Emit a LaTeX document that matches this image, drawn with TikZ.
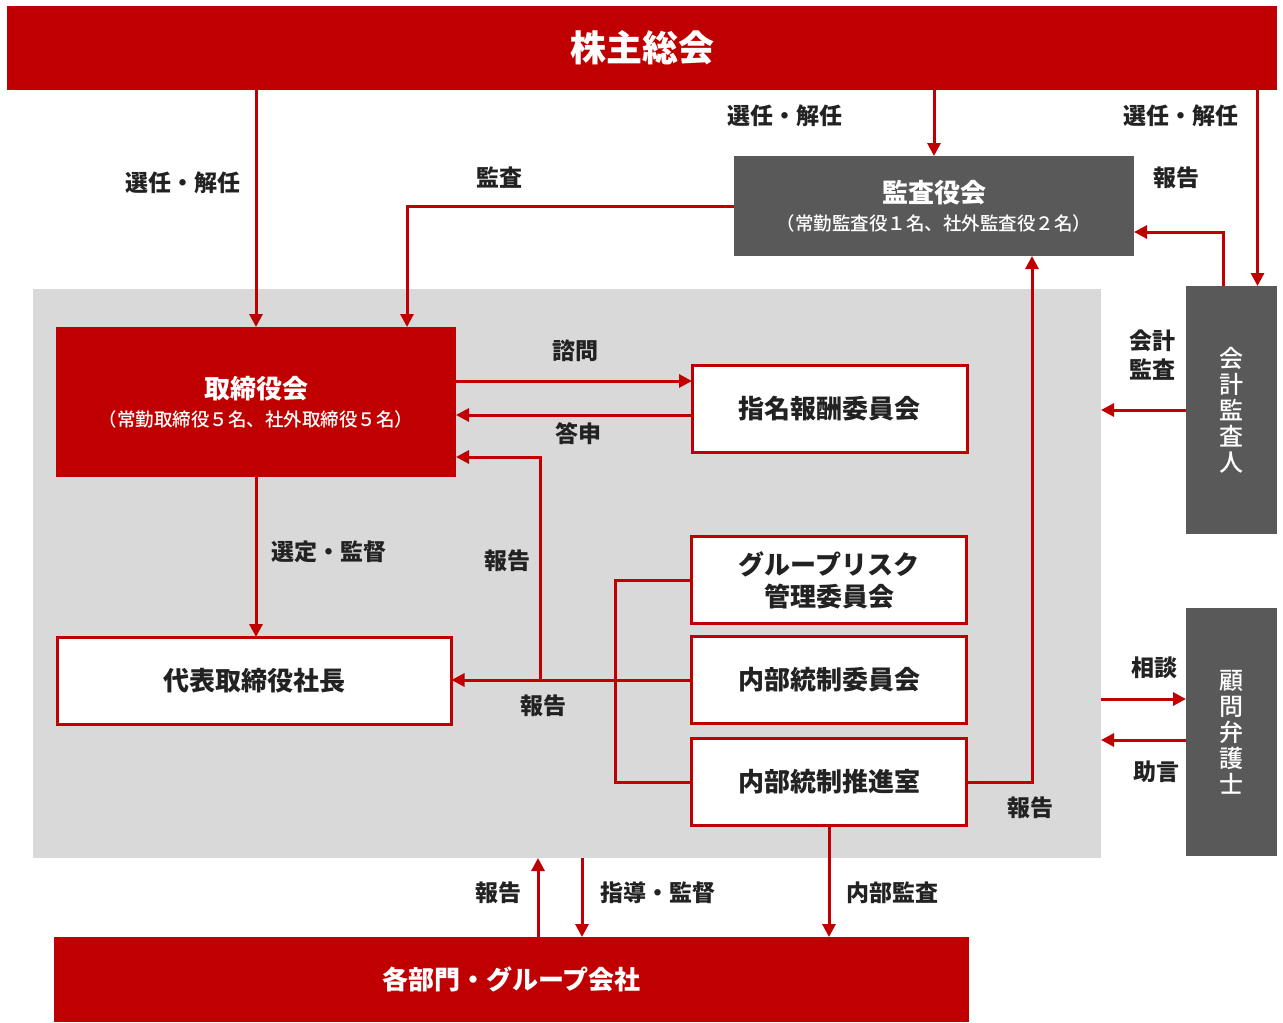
\documentclass[tikz,border=0pt]{standalone}
\usepackage{fontspec}
\newfontfamily\jpfont{Noto Sans CJK JP}
\newfontfamily\jpmed{Noto Sans CJK JP Medium}
\usetikzlibrary{arrows.meta}
\usepackage{xcolor}
\definecolor{redc}{HTML}{C00000}
\definecolor{darkc}{HTML}{595959}
\definecolor{bgc}{HTML}{D9D9D9}
\definecolor{txtc}{HTML}{222222}
\newcommand{\fsz}[1]{\fontsize{#1}{#1}\selectfont}

\begin{document}
\begin{tikzpicture}[x=1pt, y=-1pt, >={Triangle[length=13pt,width=13pt]},
 redbox/.style={fill=redc, text=white, inner sep=0, outer sep=0, align=center, font=\jpfont\bfseries\fsz{26}},
 darkbox/.style={fill=darkc, text=white, inner sep=0, outer sep=0, align=center, font=\jpfont\bfseries\fsz{26}},
 whitebox/.style={draw=redc, line width=3pt, fill=white, text=txtc, inner sep=0, outer sep=0, align=center,
   minimum width=275pt, minimum height=87pt, font=\jpfont\bfseries\fsz{26}},
 arr/.style={draw=redc, line width=3pt, ->},
 lnk/.style={draw=redc, line width=3pt},
 lbl/.style={text=txtc, inner sep=0, align=center, font=\jpfont\bfseries\fsz{23}}]
\useasboundingbox (0,0) rectangle (1283,1023);
\node[fill=bgc, inner sep=0, outer sep=0, minimum width=1068pt, minimum height=569pt] (bg) at (567,573.5) {};

\node[redbox, minimum width=1270pt, minimum height=84pt, font=\jpfont\bfseries\fsz{36}] (kabunushi) at (642,48) {株主総会};
\node[darkbox, minimum width=400pt, minimum height=100pt] (kansa) at (934,206)
 {監査役会\\[2pt]{\jpmed\mdseries\fsz{18.5}（常勤監査役１名、社外監査役２名）}};
\node[darkbox, minimum width=91pt, minimum height=248pt, font=\jpmed\mdseries\fontsize{24}{26}\selectfont] (kaikei) at (1231.5,410)
 {会\\計\\監\\査\\人};
\node[darkbox, minimum width=91pt, minimum height=248pt, font=\jpmed\mdseries\fontsize{24}{26}\selectfont] (komon) at (1231.5,732)
 {顧\\問\\弁\\護\\士};
\node[redbox, minimum width=400pt, minimum height=150pt] (torishimari) at (256,402)
 {取締役会\\[2pt]{\jpmed\mdseries\fsz{18.5}（常勤取締役５名、社外取締役５名）}};
\node[whitebox] (shimei) at (829.5,408.5) {指名報酬委員会};
\node[whitebox, minimum width=394pt] (daihyo) at (254.5,680.5) {代表取締役社長};
\node[whitebox, font=\jpfont\bfseries\fontsize{26}{32}\selectfont] (risk) at (829,580) {グループリスク\\管理委員会};
\node[whitebox] (naibu) at (829,680) {内部統制委員会};
\node[whitebox] (suishin) at (829,782) {内部統制推進室};
\node[redbox, minimum width=915pt, minimum height=85pt] (kakubu) at (511.5,979.5) {各部門・グループ会社};

\coordinate (hokoku) at (540,680);
\coordinate (kaikeitop) at ([xshift=26pt]kaikei.north);
\draw[arr] (kabunushi.south -| torishimari.north) -- (torishimari.north);
\draw[arr] (kabunushi.south -| kansa.north) -- (kansa.north);
\draw[arr] (kabunushi.south -| kaikeitop) -- (kaikeitop);
\draw[arr] (kansa.west) -| ([xshift=151pt]torishimari.north);
\draw[arr] ([xshift=-8pt]kaikei.north) |- ([yshift=-26pt]kansa.east);
\draw[arr] (kaikei.west) -- (kaikei.west -| bg.east);
\draw[arr] ([yshift=21pt]torishimari.east) -- ([yshift=21pt]torishimari.east -| shimei.west);
\draw[arr] ([yshift=-6.5pt]shimei.west) -- ([yshift=-6.5pt]shimei.west -| torishimari.east);
\draw[arr] (torishimari.south) -- (torishimari.south |- daihyo.north);
\draw[arr] (naibu.west) -- (naibu.west -| daihyo.east);
\draw[arr] (hokoku) |- ([yshift=-55pt]torishimari.east);
\draw[lnk] (risk.west) -- ++(-76,0) |- (suishin.west);
\draw[arr] (suishin.east) -| ([xshift=98pt]kansa.south);
\draw[arr] (suishin.south) -- (suishin.south |- kakubu.north);
\draw[arr] ([xshift=26.5pt]kakubu.north) -- ([xshift=26.5pt]kakubu.north |- bg.south);
\draw[arr] ([xshift=70.5pt]kakubu.north |- bg.south) -- ([xshift=70.5pt]kakubu.north);
\draw[arr] ([yshift=33pt]komon.west -| bg.east) -- ([yshift=33pt]komon.west);
\draw[arr] ([yshift=-8pt]komon.west) -- ([yshift=-8pt]komon.west -| bg.east);

\node[lbl] (l1) at (183,183) {選任・解任};
\node[lbl] (l2) at (785,116) {選任・解任};
\node[lbl] (l3) at (1181,116) {選任・解任};
\node[lbl] (l4) at (499,178) {監査};
\node[lbl] (l5) at (1176,178) {報告};
\node[lbl, font=\jpfont\bfseries\fontsize{23}{29}\selectfont] (l6) at (1152,355) {会計\\監査};
\node[lbl] (l7) at (575,351) {諮問};
\node[lbl] (l8) at (578,434) {答申};
\node[lbl] (l9) at (329,552) {選定・監督};
\node[lbl] (l10) at (507,561) {報告};
\node[lbl] (l11) at (543,706) {報告};
\node[lbl] (l12) at (1030,808) {報告};
\node[lbl] (l13) at (498,893) {報告};
\node[lbl] (l14) at (658,893) {指導・監督};
\node[lbl] (l15) at (892,893) {内部監査};
\node[lbl] (l16) at (1154,668) {相談};
\node[lbl] (l17) at (1156,772) {助言};
\end{tikzpicture}
\end{document}
